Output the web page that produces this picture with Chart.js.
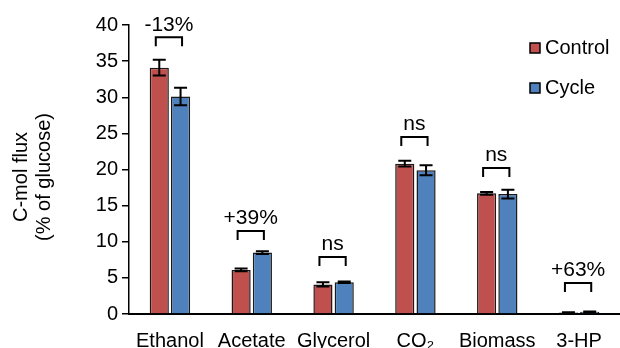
<!DOCTYPE html>
<html>
<head>
<meta charset="utf-8">
<script src="https://cdn.jsdelivr.net/npm/chart.js@4"></script>
<style>
  html, body { margin: 0; padding: 0; background: #fff; }
  #wrap { width: 620px; height: 348px; position: relative; }
</style>
</head>
<body>
<div id="wrap"><canvas id="chart-flux"></canvas></div>
<script>
var categories = ['Ethanol', 'Acetate', 'Glycerol', 'CO\u2082', 'Biomass', '3-HP'];
var controlVals = [34.1, 6.1, 4.1, 20.8, 16.7, 0.2];
var controlErr  = [1.1, 0.2, 0.3, 0.4, 0.2, 0.05];
var cycleVals   = [30.1, 8.5, 4.4, 19.9, 16.6, 0.3];
var cycleErr    = [1.2, 0.2, 0.1, 0.7, 0.6, 0.05];
var diffLabels  = ['-13%', '+39%', 'ns', 'ns', 'ns', '+63%'];
var bracketLevel = [38.3, 11.5, 7.9, 24.5, 20.2, 4.3];
var yTicks = [0, 5, 10, 15, 20, 25, 30, 35, 40];

var FONT = 'Liberation Sans, Arial, sans-serif';

// error bars, brackets, legend and axis title
var extras = {
    id: 'extras',
    afterDatasetsDraw: function(chart) {
        var ctx = chart.ctx;
        var y = chart.scales.y;
        var errs = [controlErr, cycleErr];
        ctx.save();
        ctx.strokeStyle = '#000';
        ctx.lineWidth = 2;
        chart.data.datasets.forEach(function(ds, di) {
            chart.getDatasetMeta(di).data.forEach(function(bar, i) {
                var v = ds.data[i], e = errs[di][i];
                var top = y.getPixelForValue(v + e), bot = y.getPixelForValue(v - e);
                ctx.beginPath();
                ctx.moveTo(bar.x, top); ctx.lineTo(bar.x, bot);
                ctx.moveTo(bar.x - 6.5, top); ctx.lineTo(bar.x + 6.5, top);
                ctx.moveTo(bar.x - 6.5, bot); ctx.lineTo(bar.x + 6.5, bot);
                ctx.stroke();
            });
        });
        // brackets
        var m0 = chart.getDatasetMeta(0).data, m1 = chart.getDatasetMeta(1).data;
        ctx.lineWidth = 2;
        ctx.font = '21px ' + FONT;
        ctx.fillStyle = '#000';
        ctx.textAlign = 'center';
        ctx.textBaseline = 'bottom';
        categories.forEach(function(c, i) {
            var l = m0[i].x - 3.5, r = m1[i].x + 1.5;
            var t = y.getPixelForValue(bracketLevel[i]);
            ctx.beginPath();
            ctx.moveTo(l, t + 9); ctx.lineTo(l, t); ctx.lineTo(r, t); ctx.lineTo(r, t + 9);
            ctx.stroke();
            ctx.fillText(diffLabels[i], (l + r) / 2, t - 2);
        });
        // legend
        ctx.font = '20px ' + FONT;
        ctx.textAlign = 'left';
        ctx.textBaseline = 'middle';
        ctx.lineWidth = 1.5;
        chart.data.datasets.forEach(function(ds, di) {
            var cy = 48 + di * 40;
            ctx.fillStyle = ds.backgroundColor;
            ctx.fillRect(530, cy - 5, 10, 10);
            ctx.strokeStyle = '#000';
            ctx.strokeRect(530, cy - 5, 10, 10);
            ctx.fillStyle = '#000';
            ctx.fillText(ds.label, 545, cy);
        });
        // y title
        ctx.save();
        ctx.translate(32, 177);
        ctx.rotate(-Math.PI / 2);
        ctx.textAlign = 'center';
        ctx.textBaseline = 'middle';
        ctx.font = '20px ' + FONT;
        ctx.fillText('C-mol flux', 0, -11);
        ctx.fillText('(% of glucose)', 0, 12);
        ctx.restore();
        ctx.restore();
    }
};

var ctx = document.getElementById('chart-flux').getContext('2d');
var myChart = new Chart(ctx, {
    type: 'bar',
    data: {
        labels: categories,
        datasets: [{
            label: 'Control',
            data: controlVals,
            backgroundColor: '#C0504D',
            borderColor: '#1a1a1a',
            borderWidth: 1.5
        }, {
            label: 'Cycle',
            data: cycleVals,
            backgroundColor: '#4F81BD',
            borderColor: '#1a1a1a',
            borderWidth: 1.5
        }]
    },
    options: {
        responsive: true,
        maintainAspectRatio: false,
        animation: false,
        layout: { padding: { top: 25, right: -8, left: 0, bottom: 0 } },
        datasets: { bar: { categoryPercentage: 0.52, barPercentage: 0.9 } },
        plugins: { legend: { display: false }, tooltip: { enabled: false } },
        scales: {
            x: {
                grid: { display: false },
                border: { display: true, color: '#000', width: 2 },
                ticks: { color: '#000', font: { family: FONT, size: 20 }, padding: 7, maxRotation: 0 },
                afterFit: function(s) { s.height = 34; }
            },
            y: {
                min: 0, max: 40,
                afterBuildTicks: function(s) { s.ticks = yTicks.map(function(v) { return { value: v }; }); },
                grid: { drawOnChartArea: false, color: '#000', tickLength: 7, lineWidth: 1.5 },
                border: { display: true, color: '#000', width: 1.5 },
                ticks: { color: '#000', font: { family: FONT, size: 20 }, padding: 4 },
                afterFit: function(s) { s.width = 129; }
            }
        }
    },
    plugins: [extras]
});
</script>
</body>
</html>
